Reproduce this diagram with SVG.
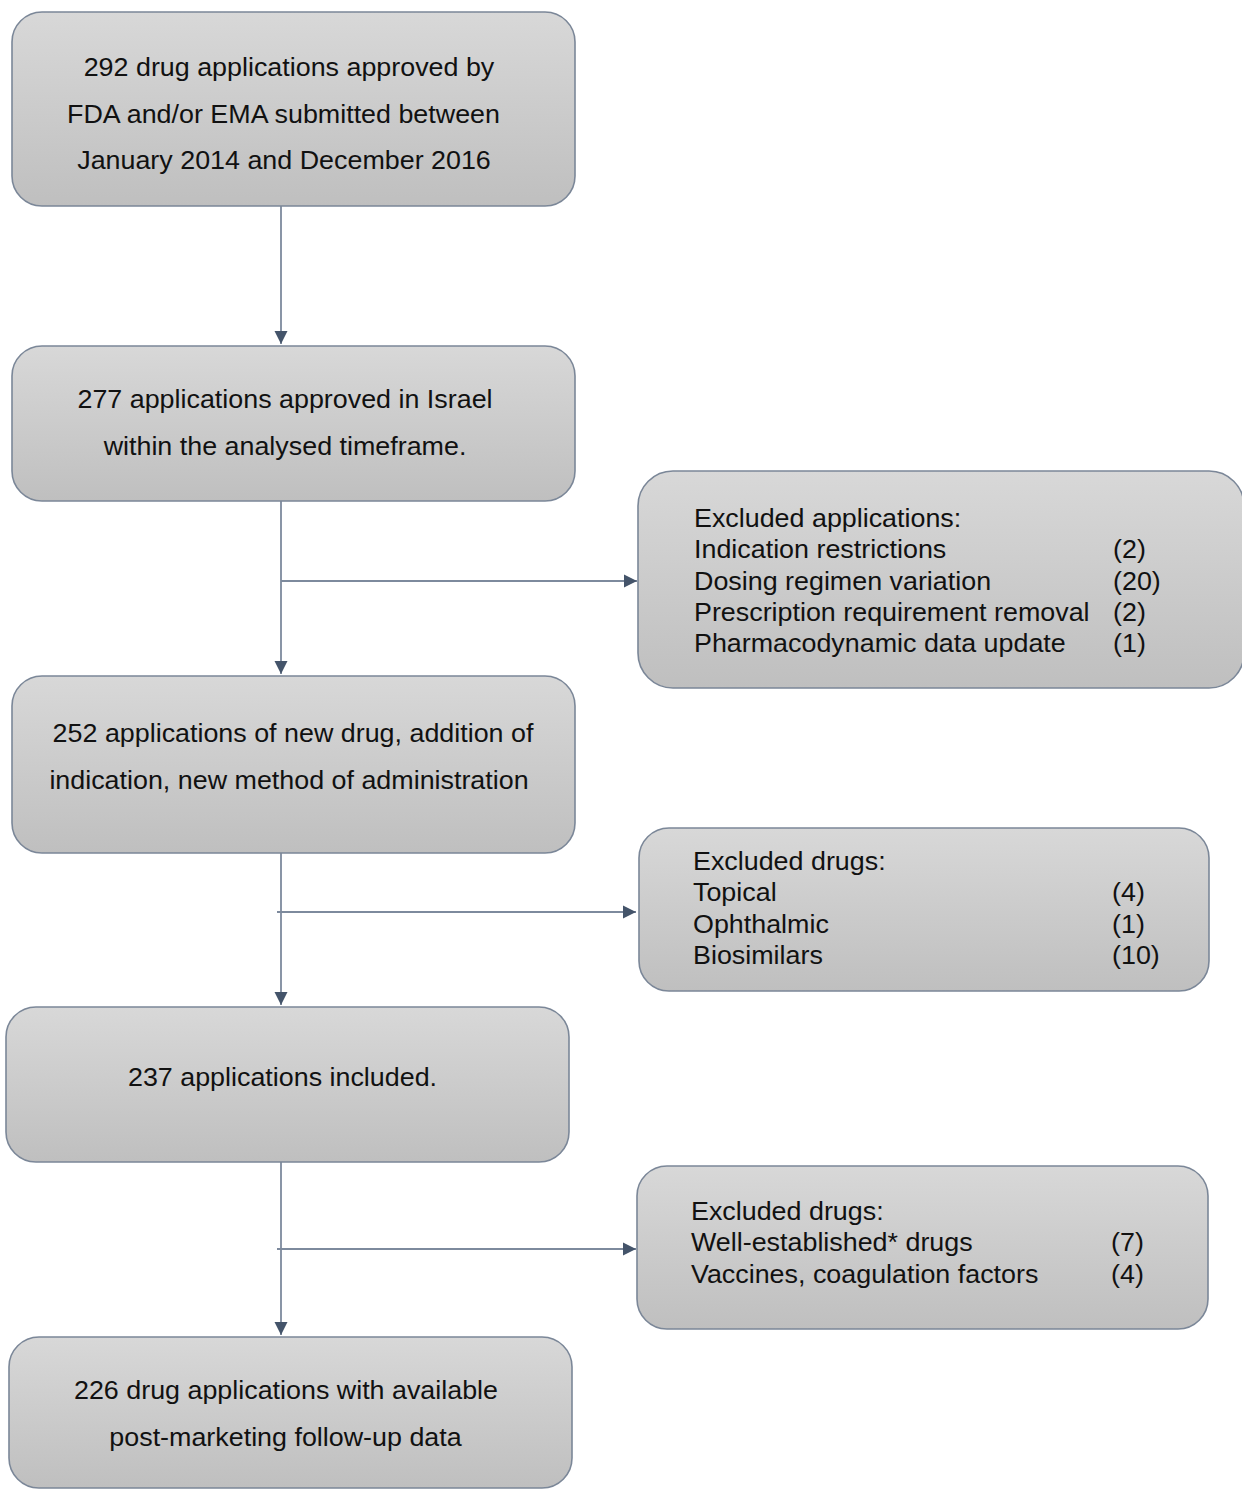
<svg xmlns="http://www.w3.org/2000/svg" width="1242" height="1489" viewBox="0 0 1242 1489">
<style>
.box{fill:url(#g);stroke:#7b8798;stroke-width:1.6}
.t{font-family:"Liberation Sans",Arial,sans-serif;font-size:25px;fill:#111111}
.c{text-anchor:middle}
.ln{stroke:#7d8a9d;stroke-width:1.8;fill:none}
</style>
<defs>
<linearGradient id="g" x1="0" y1="0" x2="0" y2="1">
<stop offset="0" stop-color="#d8d8d8"/>
<stop offset="1" stop-color="#bfbfbf"/>
</linearGradient>
<marker id="a" markerUnits="userSpaceOnUse" markerWidth="14" markerHeight="14" refX="13" refY="7" orient="auto">
<path d="M0,0.5 L13,7 L0,13.5 Z" fill="#44546a"/>
</marker>
</defs>
<rect width="1242" height="1489" fill="#ffffff"/>
<g id="connectors">
<line class="ln" x1="281" y1="206" x2="281" y2="344" marker-end="url(#a)"/>
<line class="ln" x1="281" y1="501" x2="281" y2="674" marker-end="url(#a)"/>
<line class="ln" x1="281" y1="581" x2="637" y2="581" marker-end="url(#a)"/>
<line class="ln" x1="281" y1="853" x2="281" y2="1005" marker-end="url(#a)"/>
<line class="ln" x1="277" y1="912" x2="636" y2="912" marker-end="url(#a)"/>
<line class="ln" x1="281" y1="1162" x2="281" y2="1335" marker-end="url(#a)"/>
<line class="ln" x1="277" y1="1249" x2="636" y2="1249" marker-end="url(#a)"/>
</g>
<g id="n1">
<rect class="box" x="12" y="12" width="563" height="194" rx="30"/>
<text class="t c" transform="translate(289 76) scale(1.075 1)">292 drug applications approved by</text>
<text class="t c" transform="translate(283.5 122.5) scale(1.075 1)">FDA and/or EMA submitted between</text>
<text class="t c" transform="translate(284 169) scale(1.075 1)">January 2014 and December 2016</text>
</g>
<g id="n2">
<rect class="box" x="12" y="346" width="563" height="155" rx="30"/>
<text class="t c" transform="translate(285 408) scale(1.075 1)">277 applications approved in Israel</text>
<text class="t c" transform="translate(285 455) scale(1.075 1)">within the analysed timeframe.</text>
</g>
<g id="n3">
<rect class="box" x="12" y="676" width="563" height="177" rx="30"/>
<text class="t c" transform="translate(293 742) scale(1.075 1)">252 applications of new drug, addition of</text>
<text class="t c" transform="translate(289 789) scale(1.075 1)">indication, new method of administration</text>
</g>
<g id="n4">
<rect class="box" x="6" y="1007" width="563" height="155" rx="30"/>
<text class="t c" transform="translate(282.5 1086) scale(1.075 1)">237 applications included.</text>
</g>
<g id="n5">
<rect class="box" x="9" y="1337" width="563" height="151" rx="30"/>
<text class="t c" transform="translate(286 1399) scale(1.075 1)">226 drug applications with available</text>
<text class="t c" transform="translate(285.5 1446) scale(1.075 1)">post-marketing follow-up data</text>
</g>
<g id="r1">
<rect class="box" x="638" y="471" width="606" height="217" rx="35"/>
<text class="t" transform="translate(694 527) scale(1.075 1)">Excluded applications:</text>
<text class="t" transform="translate(694 558) scale(1.075 1)">Indication restrictions</text>
<text class="t" transform="translate(694 589.5) scale(1.075 1)">Dosing regimen variation</text>
<text class="t" transform="translate(694 620.5) scale(1.075 1)">Prescription requirement removal</text>
<text class="t" transform="translate(694 652) scale(1.075 1)">Pharmacodynamic data update</text>
<text class="t" transform="translate(1113 558) scale(1.075 1)">(2)</text>
<text class="t" transform="translate(1113 589.5) scale(1.075 1)">(20)</text>
<text class="t" transform="translate(1113 620.5) scale(1.075 1)">(2)</text>
<text class="t" transform="translate(1113 652) scale(1.075 1)">(1)</text>
</g>
<g id="r2">
<rect class="box" x="639" y="828" width="570" height="163" rx="30"/>
<text class="t" transform="translate(693 870) scale(1.075 1)">Excluded drugs:</text>
<text class="t" transform="translate(693 901) scale(1.075 1)">Topical</text>
<text class="t" transform="translate(693 932.5) scale(1.075 1)">Ophthalmic</text>
<text class="t" transform="translate(693 964) scale(1.075 1)">Biosimilars</text>
<text class="t" transform="translate(1112 901) scale(1.075 1)">(4)</text>
<text class="t" transform="translate(1112 932.5) scale(1.075 1)">(1)</text>
<text class="t" transform="translate(1112 964) scale(1.075 1)">(10)</text>
</g>
<g id="r3">
<rect class="box" x="637" y="1166" width="571" height="163" rx="30"/>
<text class="t" transform="translate(691 1220) scale(1.075 1)">Excluded drugs:</text>
<text class="t" transform="translate(691 1251) scale(1.075 1)">Well-established* drugs</text>
<text class="t" transform="translate(691 1283) scale(1.075 1)">Vaccines, coagulation factors</text>
<text class="t" transform="translate(1111 1251) scale(1.075 1)">(7)</text>
<text class="t" transform="translate(1111 1283) scale(1.075 1)">(4)</text>
</g>
</svg>
